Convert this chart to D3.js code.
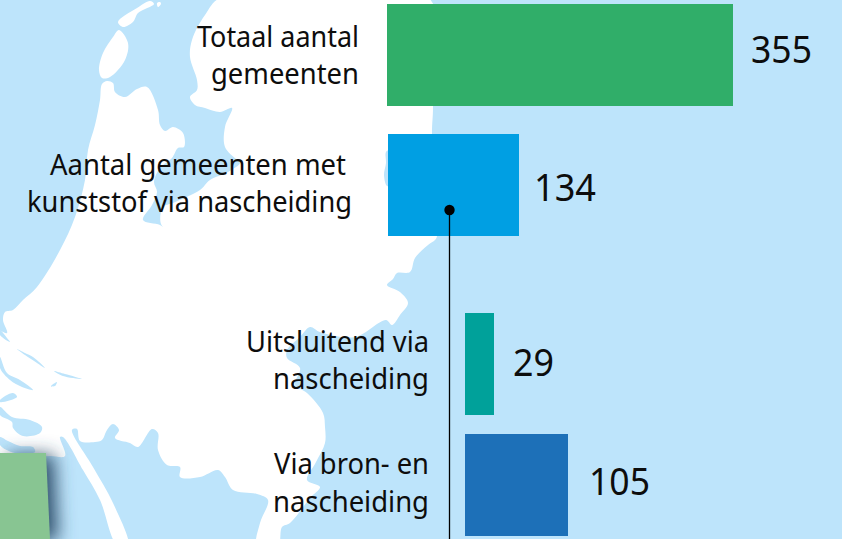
<!DOCTYPE html>
<html>
<head>
<meta charset="utf-8">
<script src="https://cdn.jsdelivr.net/npm/d3@7"></script>
<style>
    html, body { margin: 0; padding: 0; background: #bde4fb; overflow: hidden; }
    svg { display: block; }
    text { font-family: "Noto Sans", "Open Sans", sans-serif; fill: #0d0d0d; }
</style>
</head>
<body>
<div id="chart"></div>
<script>
// chart data
const categories = ["totaal", "nascheiding", "uitsluitend", "bron"];
const values = [355, 134, 29, 105];
const colors = ["#30ae69", "#009fe3", "#00a19a", "#1d70b8"];
const labelLines = [
    ["Totaal aantal", "gemeenten"],
    ["Aantal gemeenten met", "kunststof via nascheiding"],
    ["Uitsluitend via", "nascheiding"],
    ["Via bron- en", "nascheiding"]
];

// layout
const width = 842, height = 539;
const barTops = [4, 134, 313, 434];
const barLefts = [387, 388, 465, 465];
const labelRights = [[359, 359], [346, 352], [429, 429], [429, 429]];
const labelBaselines = [[47, 83.5], [175, 212], [352, 389], [474, 512]];
const labelWidths = [[162, 148], [296, 325], [183, 156], [155, 156]];
const valueGaps = [18, 15, 19, 21];
const valueBaselines = [63, 201, 376, 495];
const valueWidths = [61, 62, 41, 61];
const barHeight = 102;

// background map outlines
const landOutline = [[102, 84], [107, 81], [113, 83], [115, 92], [125, 97], [137, 89], [147, 87], [158, 110], [160, 125], [165, 131],
    [173, 127], [183, 133], [184, 147], [178, 148], [172, 158], [160, 168], [154, 182], [157, 192], [152, 205], [143, 220], [160, 225], [167, 230],
    [180, 230], [193, 239], [183, 233], [170, 232], [161, 224], [163, 207], [173, 203], [200, 190], [210, 180], [228, 172], [240, 163],
    [237, 160], [225, 147], [225, 127], [232, 108], [220, 112], [205, 108], [195, 105], [190, 97], [197, 90], [197, 80], [190, 57], [192, 40], [205, 15], [222, -3],
    [428, -3], [433, 106], [432, 134], [437, 236], [435, 240], [428, 245], [415, 258], [410, 272], [397, 273], [393, 279], [387, 285],
    [400, 292], [408, 303], [400, 315], [392, 325], [386, 320], [355, 337], [320, 332], [310, 327], [300, 337], [287, 350], [287, 358],
    [300, 368], [295, 385], [307, 393], [323, 413], [325, 427], [325, 443], [316, 462], [307, 480], [320, 487], [310, 498], [290, 523], [282, 527], [278, 545],
    [257, 545], [260, 523], [268, 500], [257, 494], [233, 490], [225, 477], [218, 470], [200, 477], [180, 477], [180, 467], [167, 465], [158, 450], [158, 433],
    [152, 429], [138, 447], [130, 443], [115, 438], [119, 430], [113, 424], [107, 430], [102, 440], [95, 442], [80, 441], [77, 429], [72, 430],
    [93, 467], [113, 503], [128, 545], [117, 545], [100, 500], [83, 470], [63, 437], [60, 437], [65, 456], [50, 456], [-5, 456], [-5, 330],
    [7, 333], [3, 320], [5, 312], [13, 310], [23, 300], [37, 287], [60, 250], [75, 217], [85, 180], [88, 150], [95, 125], [100, 100]];
const islands = [
    [[119, 30], [128, 43], [125, 60], [110, 77], [102, 78], [99, 70], [103, 53], [113, 37]],
    [[118, 22], [137, 8], [150, 1], [154, 4], [138, 13], [133, 22], [123, 27]],
    [[157, 3], [160, 2], [161, 4], [158, 7]]
];
const waters = [
    [[0, 330], [7, 338], [10, 342], [0, 335]],
    [[17, 349], [25, 353], [33, 357], [45, 368], [37, 363], [25, 355]],
    [[54, 371], [65, 374], [82, 379], [63, 376]],
    [[0, 357], [7, 373], [20, 380], [33, 390], [22, 387], [10, 380], [0, 368]],
    [[51, 386], [57, 382], [55, 386]],
    [[0, 400], [13, 393], [17, 397], [0, 402]],
    [[0, 407], [12, 417], [30, 420], [42, 427], [40, 433], [23, 436], [13, 428], [12, 422], [0, 415]],
    [[0, 437], [8, 441], [20, 446], [33, 447], [35, 452], [15, 453], [0, 445]],
    [[390, 150], [386, 152], [386, 163], [384, 175], [387, 186], [392, 186]]
];
const panelCorners = [[0, 453], [46, 453], [50, 539], [0, 539]];

const svg = d3.select("#chart").append("svg")
    .attr("width", width)
    .attr("height", height);

const blur = svg.append("defs").append("filter")
    .attr("id", "shadow")
    .attr("x", "-100%").attr("y", "-30%")
    .attr("width", "300%").attr("height", "160%");
blur.append("feGaussianBlur").attr("stdDeviation", 9);

// scales
const xScale = d3.scaleLinear().domain([0, 355]).range([0, 346]);
const topScale = d3.scaleOrdinal().domain(categories).range(barTops);
const leftScale = d3.scaleOrdinal().domain(categories).range(barLefts);
const colorScale = d3.scaleOrdinal().domain(categories).range(colors);

// map
const coast = d3.line().curve(d3.curveCatmullRomClosed.alpha(0.5));
svg.append("rect").attr("width", width).attr("height", height).attr("fill", "#bde4fb");
const map = svg.append("g");
map.append("path").attr("d", coast(landOutline)).attr("fill", "#fff");
map.selectAll(".island").data(islands).enter().append("path")
    .attr("class", "island")
    .attr("d", d => coast(d))
    .attr("fill", "#fff");
map.selectAll(".water").data(waters).enter().append("path")
    .attr("class", "water")
    .attr("d", d => coast(d))
    .attr("fill", "#bde4fb");

// green panel in the corner with its drop shadow
svg.append("path")
    .attr("d", d3.line()(panelCorners) + "Z")
    .attr("transform", "translate(8,2)")
    .attr("fill", "#2f4f6c")
    .attr("filter", "url(#shadow)");
svg.append("path")
    .attr("d", d3.line()(panelCorners) + "Z")
    .attr("fill", "#88c592");

// bars
const rows = categories.map((c, i) => ({ key: c, value: values[i], lines: labelLines[i], index: i }));

svg.selectAll(".bar").data(rows).enter().append("rect")
    .attr("class", "bar")
    .attr("x", d => leftScale(d.key))
    .attr("y", d => topScale(d.key))
    .attr("width", d => Math.ceil(xScale(d.value)))
    .attr("height", barHeight)
    .attr("fill", d => colorScale(d.key));

// connector from the nascheiding bar down to its split
const anchor = rows[1];
const anchorY = topScale(anchor.key) + 76;
svg.append("line")
    .attr("x1", 449.5).attr("x2", 449.5)
    .attr("y1", anchorY).attr("y2", height)
    .attr("stroke", "#000").attr("stroke-width", 1.3);
svg.append("circle")
    .attr("cx", 449.5).attr("cy", anchorY).attr("r", 5.2)
    .attr("fill", "#000");

// value labels
svg.selectAll(".value").data(rows).enter().append("text")
    .attr("class", "value")
    .attr("x", d => leftScale(d.key) + Math.ceil(xScale(d.value)) + valueGaps[d.index])
    .attr("y", d => valueBaselines[d.index])
    .attr("font-size", 39)
    .attr("textLength", d => valueWidths[d.index])
    .attr("lengthAdjust", "spacingAndGlyphs")
    .text(d => d.value);

// category labels, two lines each, right aligned
rows.forEach(d => {
    d.lines.forEach((line, j) => {
        svg.append("text")
            .attr("class", "label")
            .attr("x", labelRights[d.index][j] - labelWidths[d.index][j])
            .attr("y", labelBaselines[d.index][j])
            .attr("font-size", 29)
            .attr("textLength", labelWidths[d.index][j])
            .attr("lengthAdjust", "spacingAndGlyphs")
            .text(line);
    });
});
</script>
</body>
</html>
